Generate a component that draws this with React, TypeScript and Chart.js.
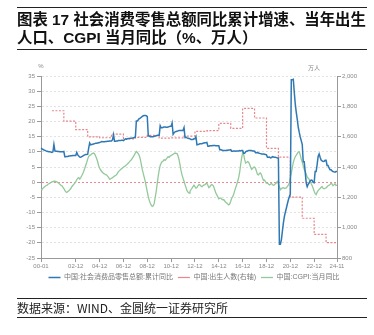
import React, { useEffect, useRef } from "react";
import { Chart, registerables } from "chart.js";

Chart.register(...registerables);

// ---- categories (monthly, 2000-01 .. 2024-11) ----
const startYear = 2000;
const endYear = 2024;
const endMonth = 11;
const monthLabels: string[] = [];
for (let y = startYear; y <= endYear; y++) {
  for (let m = 1; m <= 12; m++) {
    if (y === endYear && m > endMonth) break;
    monthLabels.push(`${String(y % 100).padStart(2, "0")}-${String(m).padStart(2, "0")}`);
  }
}

const shownTicks = [
  "00-01", "02-12", "04-12", "06-12", "08-12", "10-12", "12-12",
  "14-12", "16-12", "18-12", "20-12", "22-12", "24-11",
];

// 中国:社会消费品零售总额:累计同比 (%), monthly
const retailYoY: number[] = [
  11.2, 11.0, 10.8, 10.6, 10.5, 10.3, 10.2, 10.1, 10.0, 10.0, 9.9, 9.8, // 2000
  10.0, 12.4, 10.3, 10.2, 10.2, 10.1, 10.1, 10.0, 10.0, 10.0, 10.0, 10.1, // 2001
  8.4, 8.4, 8.5, 8.5, 8.6, 8.6, 8.7, 8.7, 8.8, 8.8, 8.8, 8.8, // 2002
  9.8, 9.0, 8.6, 8.3, 8.2, 8.4, 8.6, 8.8, 9.0, 9.1, 9.1, 9.2, // 2003
  11.2, 12.9, 12.3, 12.4, 12.5, 12.6, 12.7, 12.8, 12.8, 12.9, 13.0, 13.1, // 2004
  13.2, 13.4, 13.3, 13.3, 13.3, 13.4, 13.4, 13.5, 13.5, 13.6, 13.6, 13.6, // 2005
  14.0, 15.6, 13.5, 13.5, 13.6, 13.6, 13.7, 13.7, 13.7, 13.8, 13.8, 13.7, // 2006
  14.0, 14.3, 14.2, 14.3, 14.4, 14.4, 14.5, 14.5, 14.6, 14.6, 14.7, 14.8, // 2007
  20.2, 20.2, 20.6, 21.0, 21.1, 21.4, 21.7, 21.9, 22.0, 22.0, 21.9, 21.6, // 2008
  15.2, 15.2, 15.0, 15.0, 15.0, 15.0, 15.1, 15.2, 15.3, 15.4, 15.5, 15.5, // 2009
  18.6, 17.9, 17.9, 18.1, 18.2, 18.2, 18.1, 18.1, 18.2, 18.3, 18.4, 18.4, // 2010
  19.5, 15.8, 16.3, 16.6, 16.7, 16.8, 16.9, 17.0, 17.0, 17.0, 17.0, 17.1, // 2011
  18.0, 14.7, 14.8, 14.6, 14.5, 14.4, 14.3, 14.1, 14.1, 14.1, 14.3, 14.3, // 2012
  15.0, 12.3, 12.4, 12.5, 12.7, 12.7, 12.7, 12.8, 12.9, 13.0, 13.0, 13.1, // 2013
  11.8, 11.8, 12.0, 12.0, 12.0, 12.1, 12.1, 12.1, 12.0, 12.0, 12.0, 12.0, // 2014
  10.7, 10.7, 10.6, 10.4, 10.4, 10.4, 10.4, 10.5, 10.5, 10.6, 10.6, 10.7, // 2015
  10.2, 10.2, 10.3, 10.3, 10.2, 10.3, 10.3, 10.3, 10.4, 10.3, 10.4, 10.4, // 2016
  9.5, 9.5, 10.0, 10.2, 10.3, 10.4, 10.4, 10.4, 10.4, 10.3, 10.3, 10.2, // 2017
  9.7, 9.7, 9.8, 9.6, 9.5, 9.4, 9.3, 9.3, 9.3, 9.2, 9.1, 9.0, // 2018
  8.2, 8.2, 8.3, 8.0, 8.1, 8.4, 8.3, 8.2, 8.2, 8.1, 8.0, 8.0, // 2019
  -20.5, -20.5, -19.0, -16.2, -13.5, -11.4, -9.9, -8.6, -7.2, -5.9, -4.8, -3.9, // 2020
  33.8, 33.8, 33.9, 29.6, 25.7, 23.0, 20.7, 18.1, 16.4, 14.9, 13.7, 12.5, // 2021
  6.7, 6.7, 3.3, -0.2, -1.5, -0.7, -0.2, 0.5, 0.7, 0.6, -0.1, -0.2, // 2022
  3.5, 3.5, 5.8, 8.5, 9.3, 8.2, 7.3, 7.0, 6.8, 6.9, 7.2, 7.2, // 2023
  5.5, 5.5, 4.7, 4.1, 4.1, 3.7, 3.5, 3.4, 3.3, 3.5, 3.5, // 2024 (to Nov)
];

// 中国:CGPI:当月同比 (%), monthly
const cgpiYoY: number[] = [
  -2.5, -2.2, -2.0, -1.7, -1.4, -1.2, -1.0, -0.7, -0.5, -0.3, -0.1, 0.1, // 2000
  0.2, 0.3, 0.3, 0.2, 0.1, -0.1, -0.4, -0.7, -1.0, -1.2, -1.6, -2.1, // 2001
  -2.7, -3.2, -3.4, -3.1, -2.8, -2.5, -2.1, -1.5, -1.1, -0.7, -0.3, 0.2, // 2002
  0.8, 1.3, 1.5, 1.0, 1.5, 2.1, 2.8, 3.6, 4.5, 5.5, 6.5, 7.6, // 2003
  8.5, 8.8, 9.0, 9.3, 9.5, 9.6, 9.3, 8.6, 7.8, 6.8, 5.5, 4.7, // 2004
  4.0, 3.6, 3.2, 2.9, 2.7, 2.5, 2.4, 2.0, 1.6, 1.0, 1.1, 1.3, // 2005
  1.5, 1.8, 2.0, 2.2, 2.4, 3.0, 3.5, 3.8, 4.1, 4.4, 4.7, 5.0, // 2006
  5.1, 5.4, 5.7, 6.0, 6.3, 6.7, 7.1, 7.4, 7.9, 8.4, 9.0, 9.6, // 2007
  10.1, 9.8, 9.3, 8.7, 7.5, 5.9, 4.1, 2.8, 1.5, 0.2, -1.5, -3.2, // 2008
  -4.8, -6.0, -6.9, -7.6, -8.0, -7.8, -7.0, -5.0, -3.0, -0.5, 2.0, 4.0, // 2009
  5.5, 6.3, 6.8, 7.0, 7.4, 7.2, 7.6, 8.0, 8.4, 8.2, 8.6, 8.8, // 2010
  9.0, 9.2, 9.4, 9.6, 9.5, 9.4, 8.6, 7.4, 5.6, 3.8, 2.4, 1.3, // 2011
  0.3, -0.8, -1.8, -2.8, -3.3, -3.6, -3.0, -2.5, -2.0, -1.5, -1.0, -1.5, // 2012
  -2.0, -1.8, -1.2, -0.8, -0.9, -1.3, -1.5, -1.2, -0.9, -0.9, -0.5, -0.4, // 2013
  -1.0, -1.8, -1.5, -1.0, -0.8, -1.0, -1.6, -2.6, -3.6, -4.2, -4.8, -5.5, // 2014
  -5.3, -5.2, -5.6, -5.8, -5.8, -6.2, -6.6, -6.9, -7.2, -7.5, -7.2, -6.3, // 2015
  -5.3, -4.8, -4.0, -2.8, -1.8, -0.8, 0.3, 1.5, 3.2, 5.8, 8.0, 9.6, // 2016
  9.2, 7.5, 6.3, 6.5, 6.8, 6.6, 5.9, 5.0, 4.2, 4.5, 4.9, 5.0, // 2017
  4.6, 3.5, 2.5, 2.4, 2.9, 3.0, 2.4, 1.4, 0.6, 0.7, 0.2, -0.3, // 2018
  -0.4, -0.6, -0.9, -0.7, -0.4, -0.8, -1.0, -0.9, -0.5, -0.2, 0.2, -0.6, // 2019
  -1.5, -2.5, -2.2, -1.9, -1.8, -2.1, -2.0, -1.9, -1.4, -1.0, -0.3, 1.5, // 2020
  3.0, 4.8, 6.5, 7.6, 8.4, 8.9, 9.4, 9.9, 10.0, 9.0, 7.6, 6.6, // 2021
  5.4, 4.2, 3.6, 2.7, 1.7, 1.3, 0.9, 0.4, -0.5, -1.2, -2.0, -3.0, // 2022
  -3.8, -4.1, -3.3, -2.8, -2.4, -2.1, -1.7, -1.5, -2.0, -2.2, -2.0, -1.9, // 2023
  -1.5, -1.2, -1.0, -0.8, -0.4, -0.6, -1.2, -0.9, -0.5, -1.1, -1.0, // 2024 (to Nov)
];

// 中国:出生人数 (万人), yearly, plotted at each December
const birthYears = [
  2000, 2001, 2002, 2003, 2004, 2005, 2006, 2007, 2008, 2009, 2010, 2011,
  2012, 2013, 2014, 2015, 2016, 2017, 2018, 2019, 2020, 2021, 2022, 2023,
];
const birthValues = [
  1771, 1702, 1647, 1599, 1593, 1617, 1585, 1595, 1608, 1591, 1592, 1604,
  1635, 1640, 1687, 1655, 1786, 1723, 1523, 1465, 1202, 1062, 956, 902,
];

const birthSeries: (number | null)[] = monthLabels.map(() => null);
birthYears.forEach((y, i) => {
  const idx = (y - startYear) * 12 + 11;
  if (idx < birthSeries.length) birthSeries[idx] = birthValues[i];
});
// the last annual value is held to the final month
birthSeries[birthSeries.length - 1] = birthValues[birthValues.length - 1];

const FONT = "'Liberation Sans', 'Noto Sans CJK SC', sans-serif";

export default function App() {
  const canvasRef = useRef<HTMLCanvasElement | null>(null);

  useEffect(() => {
    if (!canvasRef.current) return;
    Chart.defaults.font.family = FONT;
    const chart = new Chart(canvasRef.current, {
      type: "line",
      data: {
        labels: monthLabels,
        datasets: [
          {
            label: "中国:社会消费品零售总额:累计同比",
            data: retailYoY,
            borderColor: "#2f78b4",
            backgroundColor: "#2f78b4",
            borderWidth: 1.5,
            pointRadius: 0,
            pointStyle: "line",
            yAxisID: "y",
            order: 1,
          },
          {
            label: "中国:出生人数(右轴)",
            data: birthSeries,
            borderColor: "#e8868c",
            backgroundColor: "#e8868c",
            borderWidth: 1.2,
            borderDash: [2, 1.5],
            pointRadius: 0,
            pointStyle: "line",
            stepped: true,
            spanGaps: true,
            yAxisID: "y1",
            order: 2,
          },
          {
            label: "中国:CGPI:当月同比",
            data: cgpiYoY,
            borderColor: "#93c99a",
            backgroundColor: "#93c99a",
            borderWidth: 1.3,
            pointRadius: 0,
            pointStyle: "line",
            yAxisID: "y",
            order: 3,
          },
        ],
      },
      options: {
        animation: false,
        responsive: false,
        devicePixelRatio: 1,
        layout: { padding: { left: 14, right: 0, top: 76, bottom: 44 } },
        plugins: {
          tooltip: { enabled: false },
          legend: {
            position: "bottom",
            labels: {
              usePointStyle: true,
              pointStyleWidth: 12,
              boxHeight: 7,
              padding: 5,
              color: "#777",
              font: { size: 7, family: FONT },
            },
          },
        },
        scales: {
          x: {
            type: "category",
            grid: {
              drawOnChartArea: false,
              drawTicks: true,
              tickLength: 4,
              tickColor: "#999",
            },
            border: { color: "#999", width: 1 },
            ticks: {
              autoSkip: false,
              maxRotation: 0,
              minRotation: 0,
              padding: 1,
              color: "#888",
              font: { size: 6, family: FONT },
              callback: (value: any, index: number) =>
                shownTicks.includes(monthLabels[index]) ? monthLabels[index] : null,
            },
            afterFit: (s: any) => {
              s.height = 11;
            },
          },
          y: {
            position: "left",
            min: -25,
            max: 35,
            ticks: {
              stepSize: 5,
              padding: 2,
              color: "#888",
              font: { size: 6, family: FONT },
            },
            grid: {
              color: (ctx: any) => (ctx.tick && ctx.tick.value === 0 ? "#ea8a90" : "#e2e2e2"),
              lineWidth: 1,
              drawTicks: true,
              tickLength: 4,
              tickColor: "#999",
            },
            border: { color: "#999", width: 1, dash: [2, 2] },
            afterFit: (s: any) => {
              s.width = 27;
            },
          },
          y1: {
            position: "right",
            min: 800,
            max: 2000,
            ticks: {
              stepSize: 200,
              padding: 1,
              color: "#888",
              font: { size: 6, family: FONT },
              callback: (v: any) => Number(v).toLocaleString("en-US"),
            },
            grid: {
              drawOnChartArea: false,
              drawTicks: true,
              tickLength: 4,
              tickColor: "#999",
            },
            border: { color: "#999", width: 1 },
            afterFit: (s: any) => {
              s.width = 37;
            },
          },
        },
      },
    });
    return () => chart.destroy();
  }, []);

  const rule = (top: number): React.CSSProperties => ({
    position: "absolute",
    left: 17,
    top,
    width: 350,
    height: 1,
    background: "#222",
  });

  return (
    <div
      style={{
        position: "fixed",
        left: 0,
        top: 0,
        width: 374,
        height: 335,
        background: "#fff",
        overflow: "hidden",
      }}
    >
      <canvas
        ref={canvasRef}
        width={374}
        height={335}
        style={{ position: "absolute", left: 0, top: 0, width: 374, height: 335 }}
      />
      <div style={rule(7)} />
      <div
        style={{
          position: "absolute",
          left: 17,
          top: 11,
          fontFamily: FONT,
          fontWeight: 700,
          fontSize: 15.4,
          lineHeight: "18px",
          color: "#111",
          whiteSpace: "nowrap",
        }}
      >
        图表 17 社会消费零售总额同比累计增速、当年出生
        <br />
        人口、CGPI 当月同比（%、万人）
      </div>
      <div style={rule(49)} />
      <div
        style={{
          position: "absolute",
          left: 36,
          top: 63,
          width: 10,
          textAlign: "center",
          fontFamily: FONT,
          fontSize: 6,
          color: "#888",
        }}
      >
        %
      </div>
      <div
        style={{
          position: "absolute",
          left: 304,
          top: 63,
          width: 20,
          textAlign: "center",
          fontFamily: FONT,
          fontSize: 6,
          color: "#888",
        }}
      >
        万人
      </div>
      <div style={rule(298)} />
      <div
        style={{
          position: "absolute",
          left: 17,
          top: 300,
          fontFamily: "'Noto Sans CJK SC', sans-serif",
          fontSize: 12,
          lineHeight: "15px",
          color: "#222",
          whiteSpace: "nowrap",
        }}
      >
        数据来源：WIND、金圆统一证券研究所
      </div>
      <div style={rule(317)} />
    </div>
  );
}
